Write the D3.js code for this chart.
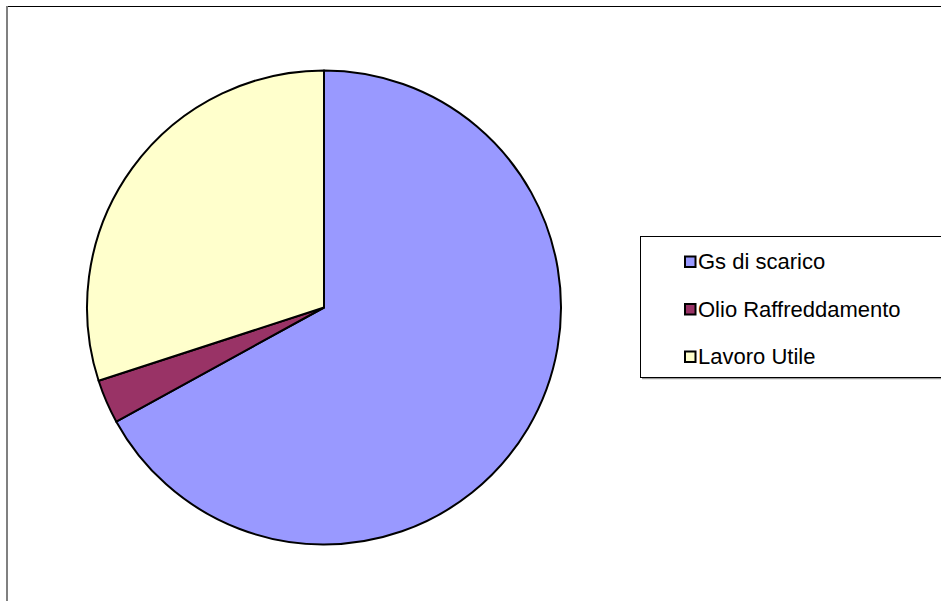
<!DOCTYPE html>
<html>
<head>
<meta charset="utf-8">
<script src="https://cdn.jsdelivr.net/npm/d3@7/dist/d3.min.js"></script>
<style>
  html, body { margin: 0; padding: 0; background: #fff; }
  svg { display: block; }
</style>
</head>
<body>
<script>
// Energy balance shares (percent)
const categories = ["Gs di scarico", "Olio Raffreddamento", "Lavoro Utile"];
const values = [67, 3, 30];
const colors = ["#9999FF", "#993366", "#FFFFCC"];

const W = 941, H = 601;
const svg = d3.select("body").append("svg")
  .attr("width", W).attr("height", H);

// Chart area frame (top and left edges visible)
svg.append("line")
  .attr("x1", 7).attr("x2", W).attr("y1", 6.5).attr("y2", 6.5)
  .attr("stroke", "#000").attr("stroke-width", 1);
svg.append("line")
  .attr("x1", 7).attr("x2", 7).attr("y1", 6).attr("y2", H)
  .attr("stroke", "#808080").attr("stroke-width", 2);

// Pie
const cx = 324, cy = 307.5, r = 237;
const pie = d3.pie().sort(null).value(d => d)
  .startAngle(0).endAngle(2 * Math.PI);
const arc = d3.arc().innerRadius(0).outerRadius(r);
const color = d3.scaleOrdinal().domain(categories).range(colors);

const g = svg.append("g").attr("transform", `translate(${cx},${cy})`);
g.selectAll("path")
  .data(pie(values))
  .join("path")
  .attr("d", arc)
  .attr("fill", (d, i) => color(categories[i]))
  .attr("stroke", "#000")
  .attr("stroke-width", 2)
  .attr("stroke-linejoin", "round");

// Legend
const lx = 640, ly = 236, lw = 320, lh = 141;
svg.append("line")
  .attr("x1", lx + 2).attr("x2", W).attr("y1", ly + lh + 1.5).attr("y2", ly + lh + 1.5)
  .attr("stroke", "#9a9a9a").attr("stroke-width", 1.5);
svg.append("rect")
  .attr("x", lx + 0.5).attr("y", ly + 0.5)
  .attr("width", lw).attr("height", lh)
  .attr("fill", "#fff").attr("stroke", "#000").attr("stroke-width", 1);

const rowY = d3.scalePoint().domain(categories).range([269, 364]);
const items = svg.append("g").selectAll("g")
  .data(categories)
  .join("g")
  .attr("transform", d => `translate(0,${rowY(d)})`);
items.append("rect")
  .attr("x", 685).attr("y", -12.5)
  .attr("width", 10.5).attr("height", 10.5)
  .attr("fill", d => color(d))
  .attr("stroke", "#000").attr("stroke-width", 2);
items.append("text")
  .attr("x", 698).attr("y", 0)
  .attr("font-family", "Liberation Sans, Arial, sans-serif")
  .attr("font-size", "22px")
  .attr("fill", "#000")
  .text(d => d);
</script>
</body>
</html>
